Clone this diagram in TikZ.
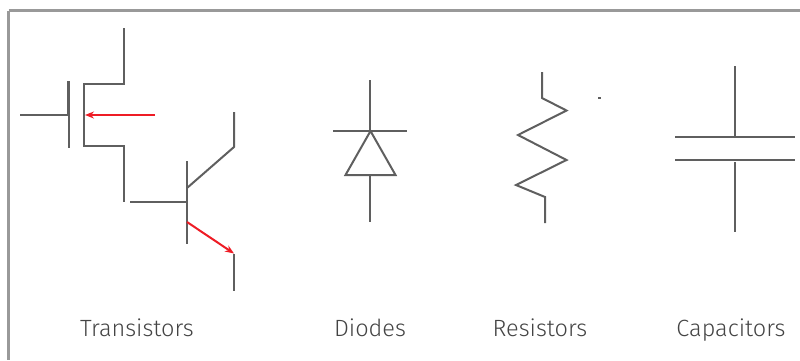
\documentclass[tikz,border=0pt]{standalone}
\usepackage{fontspec}
\setmainfont{Fira Sans Light}
\usetikzlibrary{arrows.meta}
\definecolor{wire}{HTML}{5F5F5F}
\definecolor{frame}{HTML}{999999}
\definecolor{lbl}{HTML}{444444}
\definecolor{redw}{HTML}{EE1C25}
\tikzset{
  wireline/.style={draw=wire,line width=2pt,line cap=butt,line join=miter},
  hot/.style={draw=redw,line width=2pt,-{Stealth[length=9pt,width=7pt]}},
  caption/.style={text=lbl,font=\fontsize{23.5}{27}\selectfont,anchor=base,inner sep=0pt}
}
\begin{document}
\begin{tikzpicture}[x=1pt,y=-1pt]
\useasboundingbox (0,0) rectangle (800,360);
\draw[frame,line width=3pt] (8.5,10.5) -- (800,10.5) (8.5,10.5) -- (8.5,360);
% MOSFET
\coordinate (g1) at (20,115); \coordinate (g2) at (68,115);
\coordinate (a1) at (155,115); \coordinate (a2) at (85,115);
\draw[wireline] (g1) -- (g2);
\draw[wireline,line width=3pt] (68.5,81) -- (68.5,115);
\draw[wireline] (68.5,115) -- (68.5,148);
\draw[wireline] (124,28) -- (124,84) -- (84,84) -- (84,146) -- (124,146) -- (124,202);
\draw[hot] (a1) -- (a2);
% BJT
\coordinate (b1) at (130,202); \coordinate (b2) at (187,202);
\coordinate (e1) at (187,222); \coordinate (e2) at (234,253.5);
\draw[wireline] (b1) -- (b2);
\draw[wireline] (187,161) -- (187,244);
\draw[wireline] (187,188) -- (234,147) -- (234,112);
\draw[hot] (e1) -- (e2);
\draw[wireline] (234,254) -- (234,291);
% diode
\draw[wireline] (370,80) -- (370,131);
\draw[wireline] (333,131) -- (407,131);
\draw[wireline] (370.5,131) -- (345.5,175) -- (395.5,175) -- cycle;
\draw[wireline] (370,175) -- (370,222);
% resistor
\draw[wireline] (542,72) -- (542,98) -- (566.5,110.5) -- (518,135) -- (566.5,160) -- (516,185) -- (545,197) -- (545,223);
\fill[wire] (598,97) rectangle (600.5,99);
% capacitor
\draw[wireline] (735,66) -- (735,137);
\draw[wireline] (675,137) -- (795,137);
\draw[wireline] (675,160) -- (795,160);
\draw[wireline] (735,162) -- (735,232);
% captions
\node[caption] (t) at (137,336) {Transistors};
\node[caption] (d) at (370,336) {Diodes};
\node[caption] (r) at (540,336) {Resistors};
\node[caption] (c) at (731,336) {Capacitors};
\end{tikzpicture}
\end{document}
